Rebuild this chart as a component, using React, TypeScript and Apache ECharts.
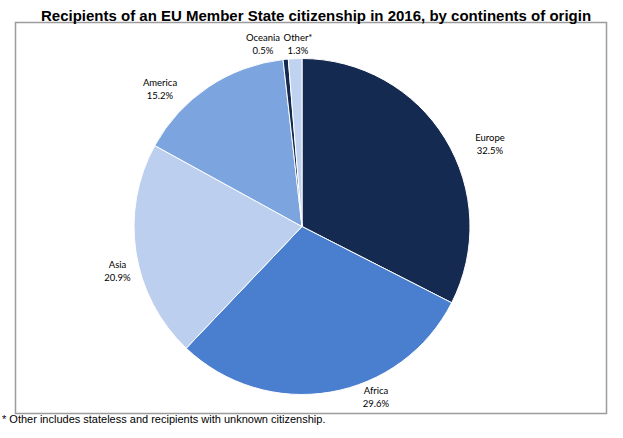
import React, { useEffect, useRef } from "react";
import * as echarts from "echarts";

const TITLE = "Recipients of an EU Member State citizenship in 2016, by continents of origin";
const FOOTNOTE = "* Other includes stateless and recipients with unknown citizenship.";
const CONTINENTS = ["Europe", "Africa", "Asia", "America", "Oceania", "Other*"];
const SHARES = [32.5, 29.6, 20.9, 15.2, 0.5, 1.3];
const COLORS = ["#152a50", "#4a7ecf", "#bccfee", "#7ca4df", "#152a50", "#bfd2ef"];

// label block centres (layout only)
const LABEL_POS: [number, number][] = [
  [490, 144],
  [376, 397],
  [117.5, 271],
  [160, 88.5],
  [263, 44],
  [298, 44],
];

export default function App() {
  const ref = useRef<HTMLDivElement>(null);
  useEffect(() => {
    if (!ref.current) return;
    const chart = echarts.init(ref.current, null, { renderer: "svg" });
    chart.setOption({
      animation: false,
      backgroundColor: "#ffffff",
      title: {
        text: TITLE,
        left: 311,
        textAlign: "center",
        top: 3,
        textStyle: {
          fontFamily: "Liberation Sans",
          fontSize: 15,
          fontWeight: "bold",
          color: "#000000",
        },
      },
      graphic: [
        {
          type: "rect",
          shape: { x: 15.5, y: 22.5, width: 591, height: 391 },
          style: { fill: "none", stroke: "#9c9c9c", lineWidth: 1.5 },
          z: -1,
        },
        {
          type: "text",
          x: 2,
          y: 419,
          style: {
            text: FOOTNOTE,
            fontFamily: "Liberation Sans",
            fontSize: 11,
            fill: "#000000",
            verticalAlign: "middle",
          },
        },
      ],
      series: [
        {
          type: "pie",
          center: [302, 226.5],
          radius: 168,
          startAngle: 90,
          clockwise: true,
          avoidLabelOverlap: false,
          data: CONTINENTS.map((name, i) => ({
            name,
            value: SHARES[i],
            itemStyle: { color: COLORS[i] },
          })),
          itemStyle: { borderColor: "#ffffff", borderWidth: 1 },
          label: {
            show: true,
            position: "outside",
            formatter: "{b}\n{c}%",
            fontFamily: "Lato",
            fontSize: 9.5,
            lineHeight: 13,
            color: "#000000",
            align: "center",
          },
          labelLine: { show: false },
          labelLayout: (params: any) => {
            const p = LABEL_POS[params.dataIndex];
            return { x: p[0], y: p[1], align: "center", verticalAlign: "middle" };
          },
          emphasis: { disabled: true },
        },
      ],
    });
    return () => chart.dispose();
  }, []);
  return (
    <div
      ref={ref}
      style={{ position: "absolute", left: 0, top: 0, width: 623, height: 438 }}
    />
  );
}
